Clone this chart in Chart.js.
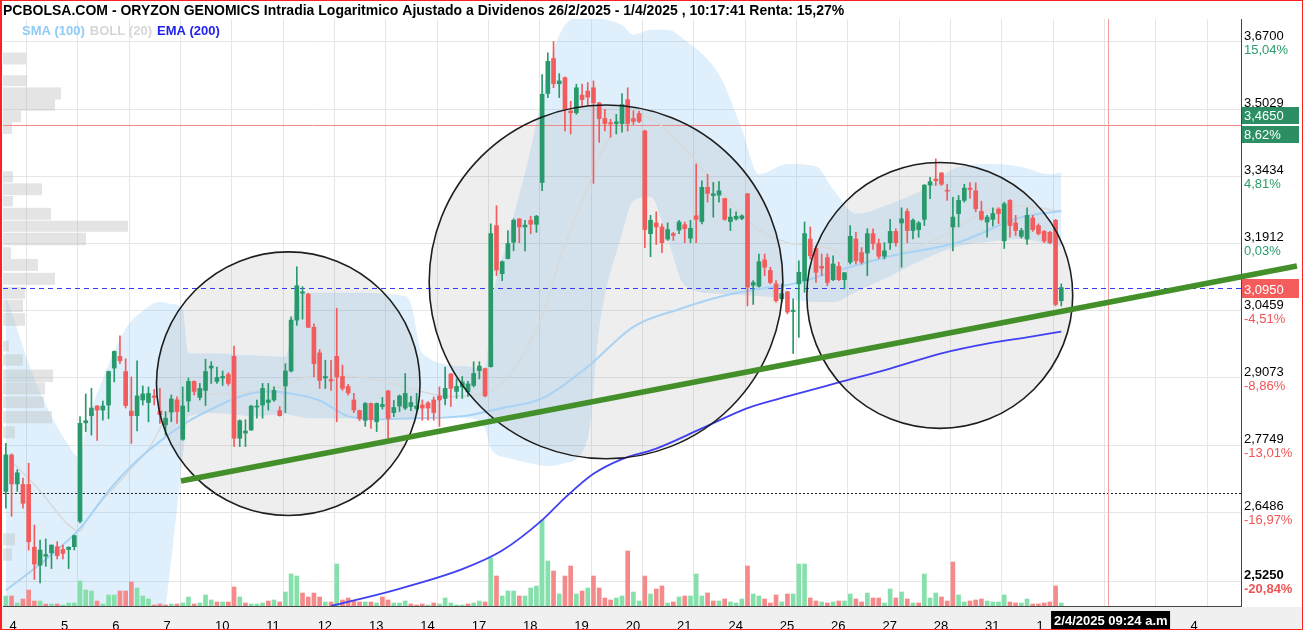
<!DOCTYPE html>
<html>
<head>
<meta charset="utf-8">
<script src="https://cdn.jsdelivr.net/npm/chart.js@4.4.1/dist/chart.umd.min.js"></script>
<style>
  html, body { margin: 0; padding: 0; background: #fff; overflow: hidden; }
  canvas { display: block; }
</style>
</head>
<body>
<canvas id="chart" width="1303" height="630"></canvas>
<script>
// ---- candles (one per hour, 9 per session) ----
const openP = [
  2.687,2.756,2.701,2.700,2.700,2.585,2.553,2.569,2.575,
  2.586,2.581,2.581,2.586,2.632,2.818,2.832,2.851,2.843,
  2.853,2.927,2.951,2.920,2.841,2.832,2.863,2.858,2.871,
  2.841,2.814,2.839,2.863,2.786,2.861,2.900,2.868,2.882,
  2.927,2.900,2.907,2.914,2.951,2.788,2.798,2.804,2.849,
  2.853,2.858,2.863,2.842,2.891,2.921,3.026,3.083,3.081,
  3.011,2.958,2.907,2.904,2.951,2.910,2.890,2.863,2.842,
  2.823,2.856,2.820,2.850,2.881,2.838,2.851,2.847,2.850,
  2.846,2.853,2.857,2.863,2.871,2.866,2.915,2.880,2.889,
  2.879,2.892,2.922,2.926,2.930,3.231,3.125,3.158,3.194,
  3.246,3.228,3.243,3.234,3.329,3.541,3.628,3.565,3.580,
  3.498,3.494,3.537,3.547,3.555,3.518,3.480,3.470,3.468,
  3.468,3.526,3.480,3.492,3.450,3.213,3.237,3.228,3.201,
  3.213,3.221,3.233,3.203,3.253,3.240,3.318,3.299,3.300,
  3.292,3.240,3.246,3.247,3.303,3.100,3.098,3.155,3.132,
  3.103,3.071,3.086,3.044,3.103,3.110,3.201,3.180,3.141,
  3.160,3.112,3.141,3.112,3.150,3.201,3.171,3.170,3.213,
  3.191,3.163,3.193,3.218,3.237,3.263,3.220,3.222,3.245,
  3.323,3.337,3.351,3.311,3.228,3.258,3.288,3.316,3.310,
  3.263,3.239,3.245,3.268,3.197,3.288,3.237,3.207,3.201,
  3.248,3.231,3.218,3.216,3.243,3.067
];
const highP = [
  2.778,2.758,2.728,2.712,2.740,2.625,2.598,2.600,2.589,
  2.595,2.589,2.586,2.607,2.830,2.875,2.886,2.852,2.861,
  2.921,2.962,2.993,2.946,2.909,2.942,2.891,2.889,2.884,
  2.886,2.840,2.873,2.869,2.889,2.907,2.901,2.896,2.945,
  2.940,2.929,2.921,2.918,2.972,2.824,2.824,2.852,2.863,
  2.896,2.896,2.889,2.850,2.936,3.033,3.140,3.097,3.083,
  3.018,2.965,2.943,2.943,3.051,2.933,2.894,2.876,2.843,
  2.858,2.857,2.857,2.868,2.882,2.862,2.873,2.916,2.870,
  2.876,2.863,2.860,2.869,2.889,2.929,2.916,2.905,2.910,
  2.900,2.940,2.940,2.927,3.235,3.276,3.153,3.220,3.246,
  3.247,3.243,3.252,3.254,3.588,3.642,3.671,3.590,3.582,
  3.522,3.564,3.564,3.568,3.572,3.519,3.502,3.478,3.490,
  3.541,3.555,3.499,3.498,3.452,3.254,3.262,3.235,3.237,
  3.216,3.243,3.239,3.243,3.372,3.333,3.348,3.329,3.331,
  3.293,3.269,3.262,3.255,3.304,3.110,3.168,3.168,3.139,
  3.110,3.103,3.087,3.071,3.153,3.239,3.228,3.185,3.168,
  3.168,3.164,3.150,3.128,3.231,3.216,3.182,3.224,3.224,
  3.201,3.193,3.245,3.224,3.271,3.269,3.246,3.240,3.324,
  3.341,3.384,3.352,3.325,3.295,3.299,3.325,3.329,3.328,
  3.286,3.254,3.271,3.271,3.284,3.290,3.254,3.225,3.271,
  3.254,3.235,3.220,3.218,3.245,3.103
];
const lowP = [
  2.656,2.641,2.687,2.656,2.580,2.528,2.522,2.551,2.547,
  2.564,2.564,2.547,2.580,2.629,2.801,2.794,2.784,2.823,
  2.826,2.899,2.936,2.847,2.778,2.802,2.853,2.820,2.853,
  2.817,2.794,2.820,2.817,2.784,2.840,2.873,2.863,2.852,
  2.896,2.896,2.892,2.892,2.772,2.772,2.772,2.803,2.827,
  2.827,2.843,2.860,2.831,2.838,2.919,3.015,3.028,3.010,
  2.909,2.886,2.886,2.882,2.820,2.882,2.873,2.838,2.822,
  2.811,2.807,2.801,2.845,2.788,2.830,2.840,2.844,2.842,
  2.843,2.823,2.823,2.823,2.811,2.853,2.850,2.866,2.866,
  2.870,2.889,2.905,2.869,2.929,3.121,3.110,3.157,3.175,
  3.193,3.175,3.213,3.216,3.310,3.531,3.555,3.531,3.450,
  3.443,3.490,3.510,3.512,3.327,3.423,3.450,3.435,3.443,
  3.447,3.450,3.466,3.470,3.182,3.162,3.189,3.171,3.198,
  3.198,3.213,3.193,3.193,3.193,3.235,3.284,3.250,3.284,
  3.243,3.220,3.243,3.244,3.056,3.059,3.096,3.121,3.103,
  3.064,3.064,3.039,2.957,2.990,3.085,3.157,3.106,3.121,
  3.099,3.110,3.110,3.092,3.146,3.146,3.146,3.121,3.178,
  3.158,3.157,3.178,3.185,3.139,3.193,3.201,3.205,3.231,
  3.292,3.322,3.322,3.288,3.175,3.228,3.284,3.293,3.262,
  3.243,3.205,3.230,3.235,3.180,3.205,3.209,3.203,3.189,
  3.218,3.210,3.193,3.191,3.056,3.056
];
const closeP = [
  2.756,2.701,2.722,2.665,2.595,2.555,2.580,2.572,2.589,
  2.570,2.574,2.585,2.606,2.817,2.822,2.847,2.843,2.851,
  2.920,2.961,2.942,2.852,2.832,2.871,2.875,2.876,2.868,
  2.834,2.827,2.865,2.840,2.851,2.900,2.880,2.886,2.920,
  2.931,2.908,2.910,2.896,2.788,2.822,2.802,2.851,2.851,
  2.886,2.863,2.882,2.832,2.921,3.026,3.099,3.086,3.011,
  2.936,2.902,2.910,2.901,2.909,2.886,2.877,2.843,2.826,
  2.856,2.824,2.856,2.854,2.826,2.848,2.871,2.876,2.858,
  2.851,2.847,2.847,2.838,2.863,2.886,2.886,2.890,2.899,
  2.895,2.916,2.931,2.871,3.213,3.133,3.151,3.191,3.243,
  3.228,3.232,3.234,3.252,3.539,3.621,3.565,3.572,3.502,
  3.494,3.555,3.526,3.532,3.518,3.480,3.468,3.467,3.472,
  3.514,3.468,3.473,3.473,3.222,3.243,3.228,3.193,3.222,
  3.209,3.239,3.224,3.225,3.245,3.318,3.304,3.303,3.310,
  3.245,3.250,3.252,3.253,3.096,3.106,3.151,3.139,3.106,
  3.067,3.082,3.043,3.047,3.128,3.213,3.164,3.128,3.137,
  3.106,3.146,3.112,3.127,3.207,3.153,3.150,3.213,3.191,
  3.163,3.175,3.218,3.193,3.246,3.220,3.243,3.237,3.323,
  3.331,3.333,3.325,3.309,3.250,3.288,3.316,3.313,3.269,
  3.245,3.250,3.258,3.258,3.280,3.231,3.220,3.220,3.254,
  3.222,3.213,3.197,3.193,3.059,3.095
];
// volume (thousand shares)
const volume = [
  10,10,3,7,16,5,5,2,2,
  2,1,3,3,25,16,15,5,2,
  11,11,15,15,24,18,10,7,1,
  2,1,2,2,3,9,2,3,11,
  6,4,4,4,19,9,3,2,2,
  3,5,6,4,14,32,30,13,9,
  13,9,4,4,42,6,8,5,4,
  4,4,3,9,6,3,3,5,2,
  1,2,1,3,2,8,3,1,1,
  2,3,5,4,48,30,10,15,15,
  10,10,18,20,86,45,35,12,30,
  40,12,15,18,30,18,8,6,8,
  10,55,14,5,30,12,17,20,3,
  4,9,10,10,32,10,13,5,5,
  7,4,3,7,40,12,10,7,3,
  11,4,12,12,42,42,8,5,4,
  3,4,5,5,12,7,4,13,8,
  8,3,17,8,14,7,3,3,32,
  8,13,9,5,44,11,4,5,6,
  7,5,4,4,11,4,3,3,7,
  2,2,3,4,20,3
];

// ---- x axis: first hour of each session ----
const dayStart = [1,10,19,28,37,46,55,64,73,82,91,100,109,118,127,136,145,154,163,172,181,190,199,208];
const dayLabel = ['4','5','6','7','10','11','12','13','14','17','18','19','20','21','24','25','26','27','28','31','1','2','3','4'];
const gridIdx = [3.5,12.5,21.5,30.5,39.5,48.5,57.5,66.5,75.5,84.5,93.5,102.5,111.5,120.5,129.5,138.5,147.5,156.5,165.5,174.5,183.5,192.5,201.5,210.5];

// ---- indicators ----
const smaIdx = [0,6,13,18,22,27,32,37,41,46,50,55,60,66,72,80,87,94,102,110,118,125,132,138,145,155,167,178,185];
const smaVal = [2.509,2.555,2.619,2.688,2.735,2.782,2.821,2.850,2.870,2.880,2.876,2.862,2.831,2.825,2.827,2.831,2.847,2.866,2.930,3.012,3.049,3.075,3.092,3.103,3.129,3.163,3.194,3.250,3.264];

const bollIdx = [1,6,11,13,14,21,25,31,40,49,53,60,66,72,78,84,94,97,102,105,109,112,115,119,125,131,137,145,148,155,164,173,178,185];
const bollVal = [2.744,2.688,2.625,2.614,2.632,2.718,2.768,2.870,2.876,2.892,2.909,2.911,2.901,2.882,2.870,2.876,3.033,3.153,3.319,3.417,3.471,3.485,3.462,3.407,3.314,3.231,3.193,3.178,3.152,3.163,3.207,3.269,3.276,3.262];

const emaIdx = [57,68,80,87,94,98,103,108,114,122,130,137,146,155,164,172,180,185];
const emaVal = [2.482,2.509,2.546,2.579,2.634,2.675,2.720,2.748,2.768,2.807,2.847,2.870,2.898,2.926,2.957,2.977,2.992,3.002];

const bandIdx = [0,1,5,11,13,14,17,21,24,27,29,31,32,37,43,49,51,53,60,70,71,73,81,84,85,88,92,95,98,102,104,108,110,113,116,119,125,129,132,137,142,145,149,155,161,167,173,178,183,185];
const bandUp  = [3.077,3.043,2.905,2.774,2.750,2.807,2.905,3.008,3.045,3.064,3.060,3.049,2.957,2.957,2.953,2.950,3.071,3.084,3.084,3.077,3.060,2.957,2.930,2.922,3.045,3.201,3.407,3.601,3.713,3.739,3.731,3.713,3.688,3.701,3.701,3.675,3.588,3.455,3.348,3.372,3.367,3.314,3.258,3.280,3.314,3.365,3.372,3.365,3.348,3.353];
const bandLow = [2.408,2.408,2.408,2.408,2.408,2.408,2.408,2.408,2.408,2.424,2.564,2.750,2.831,2.837,2.831,2.835,2.831,2.827,2.827,2.827,2.827,2.831,2.827,2.807,2.768,2.750,2.740,2.735,2.740,2.788,3.008,3.213,3.287,3.296,3.201,3.099,3.082,3.079,3.077,3.071,3.064,3.064,3.086,3.120,3.157,3.185,3.196,3.201,3.189,3.185];

// ---- price scale ----
const priceTicks = [3.6700,3.5029,3.3434,3.1912,3.0459,2.9073,2.7749,2.6486,2.5250];
const tickPct = ['15,04%','9,80%','4,81%','0,03%','-4,51%','-8,86%','-13,01%','-16,97%','-20,84%'];
const lastPrice = 3.0950;
const refPrice = 3.4650;
const refPct = '8,62%';
const supportPrice = 2.685;

// ---- volume by price (left histogram) ----
const vpLow  = [3.613,3.559,3.526,3.499,3.471,3.443,3.329,3.300,3.274,3.244,3.217,3.187,3.157,3.131,3.101,3.071,3.043,3.014,2.961,2.932,2.899,2.874,2.847,2.817,2.788,2.588,2.561];
const vpHigh = [3.643,3.586,3.556,3.526,3.499,3.471,3.355,3.327,3.298,3.271,3.242,3.215,3.183,3.157,3.127,3.097,3.069,3.041,2.983,2.955,2.924,2.898,2.870,2.841,2.811,2.610,2.583];
const vpVol  = [23,24,58,52,18,9,10,39,10,48,125,83,8,35,52,22,20,22,6,20,50,42,41,49,12,12,9];

// ---- drawings ----
const circIdx = [49.5,105.2,163.7];
const circPrice = [2.8955,3.1072,3.0782];
const circR = [23.1,31.0,23.3];
const trendIdx = [30.7,226.3];
const trendPrice = [2.7066,3.1417];
const cursorIdx = 193.2;
const cursorText = '2/4/2025 09:24 a.m.';

const GREEN = '#27996a', RED = '#f25c5c';
const VGREEN = '#86e0ac', VRED = '#f58a8a';
const FONT = '"Liberation Sans", Arial, sans-serif';

const candleColor = openP.map((o, i) => closeP[i] >= o ? GREEN : RED);
const volColor = closeP.map((c, i) => (i === 0 || c >= closeP[i - 1]) ? VGREEN : VRED);
const fmt = v => v.toFixed(4).replace('.', ',');

const deco = {
  id: 'deco',
  beforeDraw(chart) {
    const c = chart.ctx, ca = chart.chartArea, xs = chart.scales.x;
    c.save();
    c.fillStyle = '#fff';
    c.fillRect(0, 0, chart.width, chart.height);
    c.fillStyle = '#f0f0f0';
    c.fillRect(0, ca.bottom + 1, chart.width, chart.height - ca.bottom - 1);
    // vertical grid
    c.strokeStyle = '#e6e6e6';
    c.lineWidth = 1;
    gridIdx.forEach(ix => {
      const x = Math.round(xs.getPixelForValue(ix)) + 0.5;
      c.beginPath();
      c.moveTo(x, ca.top);
      c.lineTo(x, ca.bottom);
      c.stroke();
    });
    c.restore();
  },
  beforeDatasetsDraw(chart) {
    const c = chart.ctx, ca = chart.chartArea;
    const xs = chart.scales.x, ys = chart.scales.y;
    const unit = xs.getPixelForValue(1) - xs.getPixelForValue(0);
    c.save();
    c.beginPath();
    c.rect(ca.left, ca.top, ca.right - ca.left, ca.bottom - ca.top);
    c.clip();
    // volume profile
    c.fillStyle = 'rgba(185,185,185,0.38)';
    vpVol.forEach((v, i) => {
      const y1 = ys.getPixelForValue(vpHigh[i]), y2 = ys.getPixelForValue(vpLow[i]);
      c.fillRect(ca.left, y1, v, y2 - y1);
    });
    // circle fills
    c.fillStyle = 'rgba(120,120,120,0.13)';
    circIdx.forEach((ix, k) => {
      c.beginPath();
      c.arc(xs.getPixelForValue(ix), ys.getPixelForValue(circPrice[k]), circR[k] * unit, 0, Math.PI * 2);
      c.fill();
    });
    // horizontal reference lines
    const hline = (p, color, dash) => {
      const y = Math.round(ys.getPixelForValue(p)) + 0.5;
      c.beginPath();
      c.setLineDash(dash);
      c.strokeStyle = color;
      c.lineWidth = 1;
      c.moveTo(ca.left, y);
      c.lineTo(ca.right, y);
      c.stroke();
    };
    hline(refPrice, '#f08a8a', []);
    hline(lastPrice, '#3a3af5', [5, 4]);
    hline(supportPrice, '#222', [2, 2]);
    c.setLineDash([]);
    // vertical cursor
    const cx = Math.round(xs.getPixelForValue(cursorIdx)) + 0.5;
    c.strokeStyle = '#f5a0a0';
    c.beginPath();
    c.moveTo(cx, ca.top);
    c.lineTo(cx, ca.bottom);
    c.stroke();
    c.restore();
  },
  afterDatasetsDraw(chart) {
    const c = chart.ctx, ca = chart.chartArea;
    const xs = chart.scales.x, ys = chart.scales.y;
    const unit = xs.getPixelForValue(1) - xs.getPixelForValue(0);
    c.save();
    c.beginPath();
    c.rect(ca.left, ca.top, ca.right - ca.left, ca.bottom - ca.top);
    c.clip();
    c.strokeStyle = '#1e1e1e';
    c.lineWidth = 1.6;
    circIdx.forEach((ix, k) => {
      c.beginPath();
      c.arc(xs.getPixelForValue(ix), ys.getPixelForValue(circPrice[k]), circR[k] * unit, 0, Math.PI * 2);
      c.stroke();
    });
    c.restore();

    // trend line (runs past the axis)
    c.save();
    c.beginPath();
    c.rect(ca.left, ca.top, chart.width - ca.left - 5, ca.bottom - ca.top);
    c.clip();
    c.strokeStyle = '#43902a';
    c.lineWidth = 5.5;
    c.beginPath();
    c.moveTo(xs.getPixelForValue(trendIdx[0]), ys.getPixelForValue(trendPrice[0]));
    c.lineTo(xs.getPixelForValue(trendIdx[1]), ys.getPixelForValue(trendPrice[1]));
    c.stroke();
    c.restore();

    // right axis labels
    c.save();
    const lx = ca.right + 3;
    c.textBaseline = 'alphabetic';
    c.textAlign = 'left';
    priceTicks.forEach((p, k) => {
      const y = ys.getPixelForValue(p);
      const last = k === priceTicks.length - 1;
      c.font = (last ? 'bold ' : '') + '13px ' + FONT;
      c.fillStyle = '#000';
      c.fillText(fmt(p), lx, y - 2);
      c.fillStyle = tickPct[k].startsWith('-') ? '#f05555' : '#2a9c68';
      c.fillText(tickPct[k], lx, y + 12);
    });
    // value boxes
    const box = (y, h, bg, txt) => {
      c.fillStyle = bg;
      c.fillRect(ca.right + 1, y, 57, h);
      c.fillStyle = '#fff';
      c.font = '13px ' + FONT;
      c.fillText(txt, lx, y + h - 4);
    };
    const ry = Math.round(ys.getPixelForValue(refPrice));
    box(ry - 18, 17, '#2b8f63', fmt(refPrice));
    box(ry + 1, 17, '#2b8f63', refPct);
    const ly = Math.round(ys.getPixelForValue(lastPrice));
    box(ly - 9, 19, '#f55d5d', fmt(lastPrice));

    // cursor date label
    const cx = xs.getPixelForValue(cursorIdx);
    c.fillStyle = '#000';
    c.fillRect(cx - 57, ca.bottom + 5, 119, 18);
    c.save();
    c.beginPath();
    c.rect(cx - 57, ca.bottom + 5, 117, 18);
    c.clip();
    c.fillStyle = '#fff';
    c.font = 'bold 13px ' + FONT;
    c.fillText(cursorText, cx - 54, ca.bottom + 19);
    c.restore();

    // title and legend
    c.fillStyle = '#000';
    c.font = 'bold 14px ' + FONT;
    c.fillText('PCBOLSA.COM - ORYZON GENOMICS Intradia Logaritmico Ajustado a Dividenos 26/2/2025 - 1/4/2025 , 10:17:41 Renta: 15,27%', 3, 15);
    c.font = 'bold 13px ' + FONT;
    const leg = [['SMA (100)', '#8ecbf5'], ['BOLL (20)', '#d6d6d6'], ['EMA (200)', '#2222ee']];
    let x = 22;
    leg.forEach(([t, col]) => {
      c.fillStyle = col;
      c.fillText(t, x, 35);
      x += c.measureText(t).width + 5;
    });

    // frame
    c.strokeStyle = '#ff2020';
    c.lineWidth = 1;
    c.strokeRect(0.5, 0.5, chart.width - 1, chart.height - 1);
    c.beginPath();
    c.moveTo(1.5, 0);
    c.lineTo(1.5, chart.height);
    c.stroke();
    c.restore();
  }
};

const line = (idx, val, color, width, order) => ({
  type: 'line',
  data: idx.map((x, k) => ({ x, y: val[k] })),
  borderColor: color,
  borderWidth: width,
  pointRadius: 0,
  cubicInterpolationMode: 'monotone',
  fill: false,
  order
});

new Chart(document.getElementById('chart'), {
  type: 'bar',
  data: {
    datasets: [
      {
        type: 'line',
        data: bandIdx.map((x, k) => ({ x, y: bandUp[k] })),
        borderColor: 'rgba(0,0,0,0)', borderWidth: 0, pointRadius: 0,
        cubicInterpolationMode: 'monotone',
        backgroundColor: 'rgba(110,185,240,0.22)',
        fill: '+1', order: 10
      },
      {
        type: 'line',
        data: bandIdx.map((x, k) => ({ x, y: bandLow[k] })),
        borderColor: 'rgba(0,0,0,0)', borderWidth: 0, pointRadius: 0,
        cubicInterpolationMode: 'monotone',
        fill: false, order: 10
      },
      {
        data: volume.map((v, i) => ({ x: i, y: v })),
        yAxisID: 'yv',
        backgroundColor: volColor,
        barThickness: 4, grouped: false, order: 9
      },
      line(bollIdx, bollVal, '#d9d9d9', 1.5, 7),
      line(smaIdx, smaVal, '#a9d3f5', 2, 6),
      line(emaIdx, emaVal, '#4040f2', 1.8, 5),
      {
        data: lowP.map((l, i) => ({ x: i, y: [l, highP[i]] })),
        backgroundColor: candleColor,
        barThickness: 1, grouped: false, order: 3
      },
      {
        data: openP.map((o, i) => ({ x: i, y: [o, closeP[i]] })),
        backgroundColor: candleColor,
        barThickness: 4, minBarLength: 1, grouped: false, order: 2
      }
    ]
  },
  options: {
    responsive: false,
    animation: false,
    devicePixelRatio: 1,
    layout: { padding: { left: 3, top: 19, right: 0, bottom: 0 } },
    plugins: {
      legend: { display: false },
      tooltip: { enabled: false },
      filler: { drawTime: 'beforeDatasetsDraw' }
    },
    scales: {
      x: {
        type: 'linear',
        offset: false,
        min: -0.5, max: 216.5,
        grid: { display: false },
        border: { display: true, color: '#444' },
        afterBuildTicks: s => { s.ticks = dayStart.map(v => ({ value: v })); },
        afterFit: s => { s.height = 24; },
        ticks: {
          autoSkip: false, maxRotation: 0, align: 'start', padding: 5, labelOffset: -2,
          color: '#000', font: { family: FONT, size: 13 },
          callback: v => { const k = dayStart.indexOf(v); return k >= 0 ? dayLabel[k] : ''; }
        }
      },
      y: {
        type: 'logarithmic',
        position: 'right',
        min: 2.4818, max: 3.7287,
        afterBuildTicks: s => { s.ticks = priceTicks.map(v => ({ value: v })); },
        afterFit: s => { s.width = 62; },
        grid: { color: '#e6e6e6', drawTicks: false },
        border: { display: true, color: '#444' },
        ticks: { display: false }
      },
      yv: { type: 'linear', display: false, min: 0, max: 587 }
    }
  },
  plugins: [deco]
});
</script>
</body>
</html>
